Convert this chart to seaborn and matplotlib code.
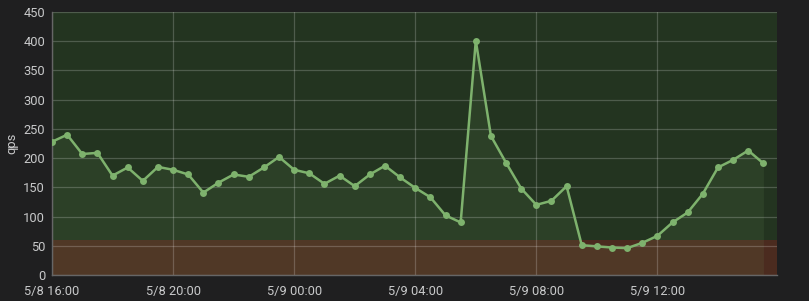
import numpy as np
import pandas as pd
import matplotlib
matplotlib.use("Agg")
import matplotlib.pyplot as plt
import matplotlib.dates as mdates
import seaborn as sns

start = "2017-05-08 16:00"
qps = [228, 240, 207, 209, 170, 184, 161, 185, 180, 172, 141, 158,
       172, 168, 184, 202, 180, 174, 156, 170, 152, 172, 187, 167,
       149, 133, 102, 90, 401, 238, 192, 148, 120, 127, 152, 51,
       49, 47, 46, 55, 67, 90, 107, 139, 184, 197, 213, 191]
times = pd.date_range(start, periods=len(qps), freq="30min")
tick_times = pd.date_range(start, periods=6, freq="4h")
threshold = 60
y_ticks = [0, 50, 100, 150, 200, 250, 300, 350, 400, 450]

df = pd.DataFrame({"time": times, "qps": qps})

sns.set_theme(style="dark")
plt.rcParams["font.family"] = ["Roboto", "DejaVu Sans"]

bg = "#1f1f20"
txt = "#c8c9ca"
line_c = "#7eb26d"

fig = plt.figure(figsize=(8.09, 3.01), dpi=100, facecolor=bg)
ax = fig.add_axes([52/809, 26/301, (777-52)/809, (275-12)/301])
ax.set_facecolor(bg)

x0 = pd.Timestamp(start)
x1 = x0 + pd.Timedelta(hours=23.95)

ax.axhspan(threshold, 450, color="#233420", zorder=0.1, lw=0)
ax.axhspan(0, threshold, color="#4b2b1f", zorder=0.1, lw=0)
ax.fill_between(df["time"], df["qps"], 0, color=line_c, alpha=0.1, lw=0, zorder=1)

sns.lineplot(data=df, x="time", y="qps", ax=ax, color=line_c, lw=1.8,
             marker="o", markersize=5, markeredgewidth=0, zorder=3)

ax.set_xlim(x0, x1)
ax.set_ylim(0, 450)
ax.set_yticks(y_ticks)
ax.set_xticks(tick_times)
ax.xaxis.set_major_formatter(mdates.DateFormatter("%-m/%-d %H:%M"))

ax.set_axisbelow("line")
ax.grid(True, color="#ffffff", alpha=0.2, lw=0.9)
ax.tick_params(axis="both", length=0, colors=txt, labelsize=9.3)
ax.tick_params(axis="y", pad=5)
ax.tick_params(axis="x", pad=7)
for lbl in ax.get_xticklabels() + ax.get_yticklabels():
    lbl.set_color(txt)

for s in ["top", "right"]:
    ax.spines[s].set_visible(False)
for s in ["left", "bottom"]:
    ax.spines[s].set_visible(True)
    ax.spines[s].set_color("#666666")
    ax.spines[s].set_linewidth(1)

ax.set_xlabel("")
ax.set_ylabel("qps", color=txt, fontsize=9.3)
ax.yaxis.set_label_coords(-34/725, 0.5)

fig.savefig("out.png", dpi=100, facecolor=bg)
